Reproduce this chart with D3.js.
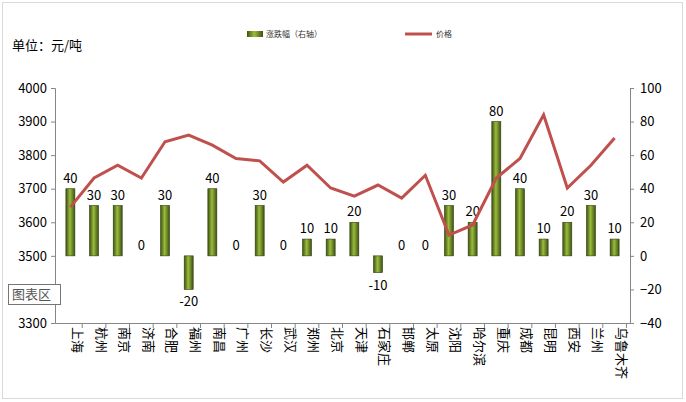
<!DOCTYPE html>
<html><head><meta charset="utf-8">
<script src="https://cdn.jsdelivr.net/npm/d3@7"></script>
<style>body{margin:0;background:#fff;font-family:"Noto Sans CJK SC","Microsoft YaHei",sans-serif}</style>
</head><body><div id="chart"></div>
<script>
var cities = ['上海','杭州','南京','济南','合肥','福州','南昌','广州','长沙','武汉','郑州','北京','天津','石家庄','邯郸','太原','沈阳','哈尔滨','重庆','成都','昆明','西安','兰州','乌鲁木齐'];
var change = [40,30,30,0,30,-20,40,0,30,0,10,10,20,-10,0,0,30,20,80,40,10,20,30,10];
var price = [3645,3732,3770,3732,3840,3860,3830,3790,3783,3720,3770,3702,3678,3711,3672,3740,3562,3592,3732,3790,3920,3702,3770,3851];
var leftTicks = [3300,3400,3500,3600,3700,3800,3900,4000];
var rightTicks = [-40,-20,0,20,40,60,80,100];

var svgWidth = 686, svgHeight = 402;
var margin = {top: 88, right: 56, bottom: 79, left: 55};
var chartWidth = svgWidth - margin.left - margin.right;
var chartHeight = svgHeight - margin.top - margin.bottom;

var svg = d3.select('#chart').append('svg')
  .attr('width', svgWidth).attr('height', svgHeight);

svg.append('rect').attr('x', 2.5).attr('y', 2.5).attr('width', 680).attr('height', 396)
  .attr('fill', '#fff').attr('stroke', '#d9d9d9');

var defs = svg.append('defs');
var grad = defs.append('linearGradient').attr('id', 'barGrad').attr('x1', 0).attr('x2', 1);
grad.append('stop').attr('offset', '0%').attr('stop-color', '#3d5212');
grad.append('stop').attr('offset', '45%').attr('stop-color', '#9bbb3c');
grad.append('stop').attr('offset', '100%').attr('stop-color', '#3d5212');

var g = svg.append('g').attr('transform', `translate(${margin.left},${margin.top})`);

var x = d3.scaleBand().domain(cities).range([0, chartWidth]).padding(0.3);
var yL = d3.scaleLinear().domain([3300, 4000]).range([chartHeight, 0]);
var yR = d3.scaleLinear().domain([-40, 100]).range([chartHeight, 0]);

var axL = g.append('g').call(d3.axisLeft(yL).tickValues(leftTicks).tickFormat(d3.format('d')).tickSize(4));
var axR = g.append('g').attr('transform', `translate(${chartWidth},0)`)
  .call(d3.axisRight(yR).tickValues(rightTicks).tickSize(4));
var axB = g.append('g').attr('transform', `translate(0,${chartHeight})`)
  .call(d3.axisBottom(x).tickSize(0));
[axL, axR, axB].forEach(function(a) {
  a.selectAll('path,line').attr('stroke', '#868686');
  a.selectAll('text').attr('fill', '#000').style('font-size', '13px')
    .style('font-family', '"Noto Sans CJK SC",sans-serif');
});
axL.selectAll('text').attr('x', -8);
axR.selectAll('text').attr('x', 10);
axB.selectAll('text')
  .attr('transform', 'rotate(90)').attr('y', -6).attr('x', 4).attr('dy', '0')
  .style('text-anchor', 'start').style('dominant-baseline', 'middle');
axB.selectAll('.tick').append('line')
  .attr('x1', x.step() / 2).attr('x2', x.step() / 2).attr('y1', 0).attr('y2', 5)
  .attr('stroke', '#868686');

g.selectAll('.bar').data(change).enter().append('rect')
  .attr('class', 'bar')
  .attr('x', (d, i) => x(cities[i]) + x.bandwidth() / 2 - 4.5)
  .attr('width', 9)
  .attr('y', d => yR(Math.max(0, d)))
  .attr('height', d => Math.abs(yR(d) - yR(0)))
  .attr('fill', 'url(#barGrad)').attr('stroke', '#2f3f0d').attr('stroke-width', 0.6);

g.selectAll('.lbl').data(change).enter().append('text')
  .attr('x', (d, i) => x(cities[i]) + x.bandwidth() / 2)
  .attr('y', d => d >= 0 ? yR(d) - 6 : yR(d) + 17)
  .attr('text-anchor', 'middle').style('font-size', '13px')
  .text(d => d);

var line = d3.line().x((d, i) => x(cities[i]) + x.bandwidth() / 2).y(d => yL(d));
g.append('path').datum(price).attr('d', line)
  .attr('fill', 'none').attr('stroke', '#c0504d').attr('stroke-width', 3);

svg.append('text').attr('x', 12).attr('y', 50).style('font-size', '13px').text('单位：元/吨');
svg.append('rect').attr('x', 247).attr('y', 31).attr('width', 16).attr('height', 6).attr('fill', 'url(#barGrad)');
svg.append('text').attr('x', 266).attr('y', 37).style('font-size', '8px').attr('fill', '#333').text('涨跌幅（右轴）');
svg.append('line').attr('x1', 405).attr('x2', 432).attr('y1', 34).attr('y2', 34)
  .attr('stroke', '#c0504d').attr('stroke-width', 3);
svg.append('text').attr('x', 436).attr('y', 37).style('font-size', '8px').attr('fill', '#333').text('价格');

// chart-area tooltip box (covers the 3400 tick label as in the reference)
axL.selectAll('.tick').filter(d => d === 3400).select('text').remove();
svg.append('rect').attr('x', 8.5).attr('y', 284.5).attr('width', 52).attr('height', 20)
  .attr('fill', '#fff').attr('stroke', '#767676');
svg.append('text').attr('x', 12).attr('y', 299).style('font-size', '13px').attr('fill', '#555').text('图表区');
</script></body></html>
